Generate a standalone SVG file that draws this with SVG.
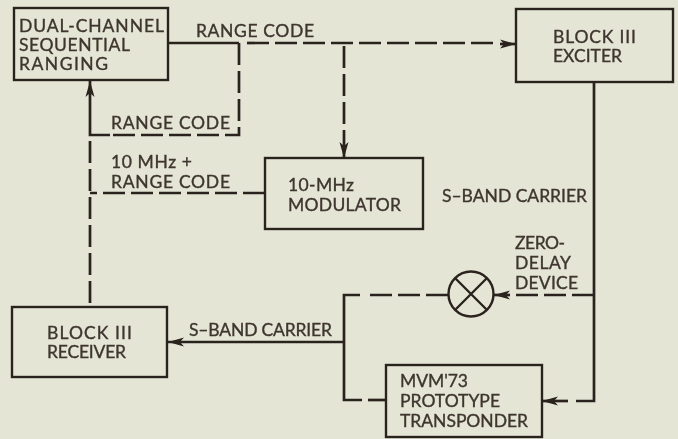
<svg xmlns="http://www.w3.org/2000/svg" width="678" height="439" viewBox="0 0 678 439">
<style>
text{font-family:"Lato","Liberation Sans",sans-serif;font-size:17.5px;fill:#3d352e;stroke:#3d352e;stroke-width:0.35}
.b{fill:none;stroke:#2a231e;stroke-width:2.4}
.s{fill:none;stroke:#2a231e;stroke-width:2.7}
.d{fill:none;stroke:#2a231e;stroke-width:2.7;stroke-dasharray:22 6}
</style>
<defs>
<filter id="soft" x="-2%" y="-2%" width="104%" height="104%"><feGaussianBlur stdDeviation="0.45"/></filter>
<marker id="a" markerUnits="userSpaceOnUse" markerWidth="18" markerHeight="12" refX="16" refY="6" orient="auto"><path d="M0 1.5 L16 6 L0 10.5 L4 6 Z" fill="#2a231e"/></marker>
</defs>
<rect width="678" height="439" fill="#e5e5d5"/>
<g filter="url(#soft)">
<g id="connectors">
<path class="s" d="M168 43H239"/>
<path class="d" d="M247 43H496"/>
<path class="s" d="M500 44H516" marker-end="url(#a)"/>
<path class="d" d="M239 43V135H110"/>
<path class="s" d="M110 135H90V81" marker-end="url(#a)"/>
<path class="d" d="M90 141V307"/>
<path class="d" d="M265 193H90"/>
<path class="d" d="M344 46V140"/>
<path class="s" d="M344 140V158" marker-end="url(#a)"/>
<path class="s" d="M594 82V401H576"/>
<path class="d" d="M594 295H512"/>
<path class="s" d="M510 295H494" marker-end="url(#a)"/>
<path class="d" d="M448 295H366"/>
<path class="s" d="M360 295H344V400H362"/>
<path class="s" d="M368 400H386"/>
<path class="s" d="M568 401H542" marker-end="url(#a)"/>
<path class="s" d="M344 342H168" marker-end="url(#a)"/>
</g>
<g id="ranging">
<rect class="b" x="14" y="8" width="154" height="72"/>
<text x="19" y="32" textLength="145">DUAL-CHANNEL</text>
<text x="19" y="51" textLength="111">SEQUENTIAL</text>
<text x="19" y="70" textLength="89">RANGING</text>
</g>
<g id="exciter">
<rect class="b" x="516" y="9" width="157" height="73"/>
<text x="553" y="43" textLength="83">BLOCK III</text>
<text x="553" y="62" textLength="69">EXCITER</text>
</g>
<g id="modulator">
<rect class="b" x="265" y="158" width="158" height="71"/>
<text x="288" y="191" textLength="66">10-MHz</text>
<text x="288" y="211" textLength="113">MODULATOR</text>
</g>
<g id="receiver">
<rect class="b" x="12" y="307" width="155" height="70"/>
<text x="47" y="339" textLength="85">BLOCK III</text>
<text x="47" y="358" textLength="79">RECEIVER</text>
</g>
<g id="transponder">
<rect class="b" x="386" y="365" width="156" height="72"/>
<text x="400" y="387" textLength="68">MVM'73</text>
<text x="400" y="407" textLength="100">PROTOTYPE</text>
<text x="400" y="427" textLength="128">TRANSPONDER</text>
</g>
<g id="zero-delay-device">
<circle class="b" cx="471" cy="294" r="22.5"/>
<path class="b" d="M455 278L487 310M487 278L455 310"/>
<text x="515" y="249" textLength="50">ZERO-</text>
<text x="515" y="269" textLength="56">DELAY</text>
<text x="515" y="289" textLength="63">DEVICE</text>
</g>
<g id="labels">
<text x="196" y="37" textLength="118">RANGE CODE</text>
<text x="111" y="129" textLength="119">RANGE CODE</text>
<text x="111" y="168" textLength="81">10 MHz  +</text>
<text x="111" y="188" textLength="119">RANGE CODE</text>
<text x="442" y="202" textLength="145">S–BAND CARRIER</text>
<text x="189" y="336" textLength="143">S–BAND CARRIER</text>
</g>
</g>
</svg>
